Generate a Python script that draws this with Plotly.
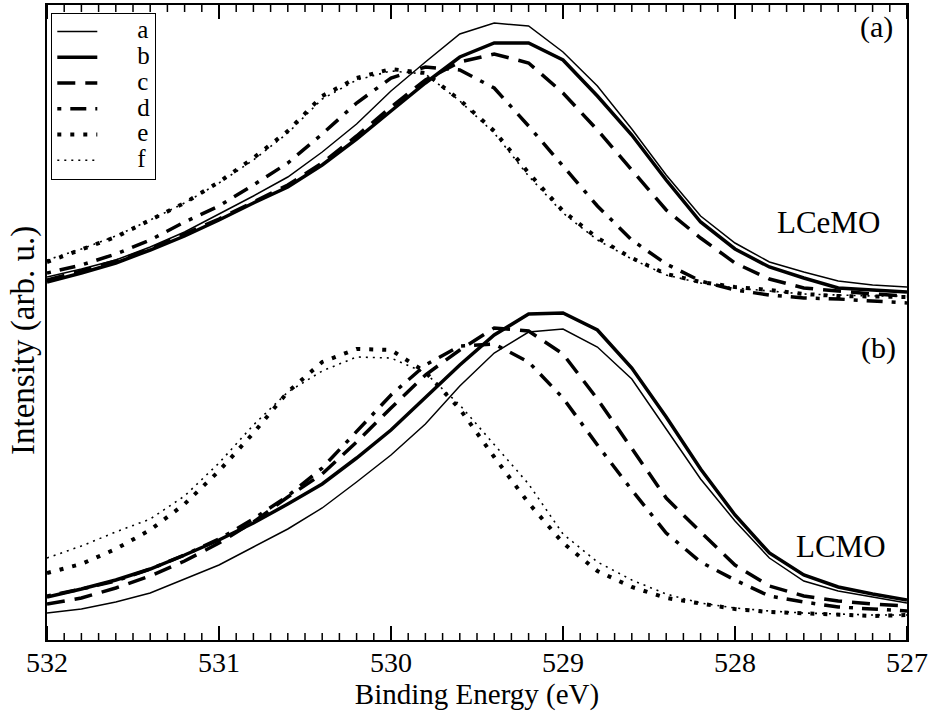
import plotly.graph_objects as go

# Binding energy grid (eV)
energy = [532.0, 531.8, 531.6, 531.4, 531.2, 531.0, 530.8, 530.6, 530.4, 530.2,
          530.0, 529.8, 529.6, 529.4, 529.2, 529.0, 528.8, 528.6, 528.4, 528.2,
          528.0, 527.8, 527.6, 527.4, 527.2, 527.0]

# Panel (a) LCeMO (offset upward), arbitrary units
lcemo_a = [363, 371, 380, 393, 408, 426, 444, 463, 488, 516, 549, 578, 606, 617, 614, 588, 554, 511, 465, 424, 397, 378, 368, 359, 355, 353]
lcemo_b = [358, 367, 377, 390, 404, 420, 437, 453, 475, 501, 529, 557, 583, 597, 597, 580, 544, 505, 460, 418, 391, 373, 362, 352, 350, 348]
lcemo_c = [360, 369, 379, 391, 406, 421, 438, 455, 477, 504, 533, 560, 578, 586, 577, 547, 510, 470, 430, 402, 377, 361, 352, 349, 346, 344]
lcemo_d = [367, 375, 386, 400, 418, 434, 455, 477, 506, 537, 562, 573, 570, 552, 514, 474, 434, 400, 376, 359, 350, 345, 342, 341, 339, 337]
lcemo_e = [378, 390, 403, 420, 437, 458, 482, 509, 544, 562, 571, 567, 540, 509, 467, 429, 402, 382, 366, 358, 353, 350, 346, 344, 343, 343]
lcemo_f = [380, 391, 404, 420, 437, 457, 480, 507, 541, 560, 569, 566, 539, 507, 464, 427, 400, 381, 365, 357, 352, 349, 346, 345, 344, 344]

# Panel (b) LCMO
lcmo_a = [27, 31, 38, 47, 61, 75, 93, 111, 132, 158, 185, 216, 254, 287, 308, 311, 293, 261, 211, 161, 119, 82, 59, 49, 43, 37]
lcmo_b = [43, 51, 60, 71, 85, 100, 117, 136, 156, 182, 210, 243, 275, 305, 326, 327, 310, 272, 223, 171, 125, 87, 65, 53, 46, 40]
lcmo_c = [36, 42, 52, 64, 79, 97, 118, 143, 166, 198, 232, 265, 290, 312, 309, 286, 241, 192, 142, 108, 75, 54, 44, 39, 36, 34]
lcmo_d = [44, 51, 59, 71, 85, 101, 121, 144, 172, 208, 245, 275, 294, 296, 278, 242, 195, 150, 107, 78, 60, 44, 38, 33, 31, 29]
lcmo_e = [67, 76, 91, 110, 136, 169, 207, 248, 278, 291, 290, 268, 231, 183, 137, 97, 69, 53, 42, 36, 31, 28, 27, 25, 24, 25]
lcmo_f = [82, 94, 108, 121, 144, 177, 215, 248, 269, 283, 282, 267, 235, 196, 156, 106, 78, 60, 46, 37, 32, 29, 27, 26, 25, 25]

labels = ["a", "b", "c", "d", "e", "f"]
major_ticks = [532, 531, 530, 529, 528, 527]
x_range = [532, 527]
y_range = [0, 635]

styles = {
    "a": dict(width=1.5, dash="solid"),
    "b": dict(width=3.5, dash="solid"),
    "c": dict(width=3.5, dash="18px,10px"),
    "d": dict(width=3.5, dash="4px,9px,16px,9px"),
    "e": dict(width=4.0, dash="4px,9px"),
    "f": dict(width=1.6, dash="2px,5px"),
}

top = [lcemo_a, lcemo_b, lcemo_c, lcemo_d, lcemo_e, lcemo_f]
bot = [lcmo_a, lcmo_b, lcmo_c, lcmo_d, lcmo_e, lcmo_f]

NB = "\u00a0"
fig = go.Figure()
for lab, ys in zip(labels, top):
    fig.add_trace(go.Scatter(
        x=energy, y=ys, mode="lines", legendgroup=lab,
        name=NB * 8 + '<span style="font-size:25px">' + lab + "</span>",
        line=dict(color="black", **styles[lab])))
for lab, ys in zip(labels, bot):
    fig.add_trace(go.Scatter(x=energy, y=ys, mode="lines", name=lab, legendgroup=lab,
                             showlegend=False, line=dict(color="black", **styles[lab])))

# inward tick marks on bottom and top frame, drawn as axis-referenced shapes
PLOT_H = 635.0
minor_ticks = [round(x_range[1] + 0.1 * i, 1) for i in range(51) if i % 10 != 0]
tick_shapes = []
for vals, length, width in ((major_ticks, 14, 2), (minor_ticks, 7, 1.5)):
    frac = length / PLOT_H
    for v in vals:
        tick_shapes.append(dict(type="line", xref="x", yref="paper", x0=v, x1=v, y0=0, y1=frac,
                                line=dict(color="black", width=width), layer="above"))
        tick_shapes.append(dict(type="line", xref="x", yref="paper", x0=v, x1=v, y0=1, y1=1 - frac,
                                line=dict(color="black", width=width), layer="above"))

FONT = "Liberation Serif, Times New Roman, serif"

fig.update_layout(
    width=932, height=711,
    margin=dict(l=47, r=25, t=5, b=71),
    paper_bgcolor="white", plot_bgcolor="white",
    font=dict(family=FONT, color="black", size=24),
    showlegend=True,
    legend=dict(x=0.005, y=0.988, xanchor="left", yanchor="top",
                bordercolor="black", borderwidth=1, bgcolor="white",
                font=dict(size=17.5, family=FONT), tracegroupgap=0,
                itemwidth=40),
    shapes=tick_shapes,
    xaxis=dict(range=x_range, tickmode="array", tickvals=major_ticks,
               ticks="", showline=True, linecolor="black", linewidth=2, mirror=True,
               showgrid=False, zeroline=False, automargin=False,
               ticklabelstandoff=-4,
               tickfont=dict(size=28, family=FONT),
               title=dict(text="Binding Energy (eV)", font=dict(size=29, family=FONT), standoff=4)),
    yaxis=dict(range=y_range, showticklabels=False, ticks="",
               showline=True, linecolor="black", linewidth=2, mirror=True,
               showgrid=False, zeroline=False, automargin=False),
    annotations=[
        dict(text="Intensity (arb. u.)", x=-0.0267, y=0.471, xref="paper", yref="paper",
             textangle=-90, showarrow=False, font=dict(size=33, family=FONT),
             xanchor="center", yanchor="middle"),
        dict(text="(a)", x=0.986, y=0.965, xref="paper", yref="paper", showarrow=False,
             xanchor="right", yanchor="middle", font=dict(size=30, family=FONT)),
        dict(text="LCeMO", x=0.971, y=0.658, xref="paper", yref="paper", showarrow=False,
             xanchor="right", yanchor="middle", font=dict(size=31, family=FONT)),
        dict(text="(b)", x=0.99, y=0.46, xref="paper", yref="paper", showarrow=False,
             xanchor="right", yanchor="middle", font=dict(size=30, family=FONT)),
        dict(text="LCMO", x=0.978, y=0.148, xref="paper", yref="paper", showarrow=False,
             xanchor="right", yanchor="middle", font=dict(size=31, family=FONT)),
    ],
)

fig.write_html("out.html", config={"displayModeBar": False},
               post_script="document.body.style.margin='0px';")
